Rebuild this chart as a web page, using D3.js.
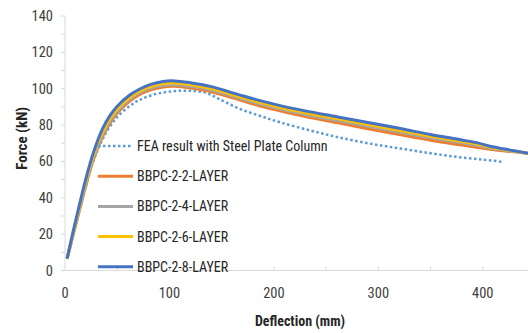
<!DOCTYPE html>
<html>
<head>
<meta charset="utf-8">
<script src="https://cdn.jsdelivr.net/npm/d3@7"></script>
<style>
  body { margin: 0; background: #fff; }
  svg { display: block; font-family: "Liberation Sans Narrow", "Arial Narrow", "Roboto Condensed", sans-serif; }
</style>
</head>
<body>
<div id="chart_root"></div>
<script>
// deflection (mm) sample points for the BBPC curves
const deflection = [2, 8, 15, 20, 27, 36, 43, 50, 62, 72, 82, 94, 105, 120, 139, 167, 185, 206, 230, 260, 290, 320, 350, 380, 395, 405, 416, 430, 445];
const layer2 = [6.5, 20, 35.8, 46.8, 60.8, 73.6, 81, 86.6, 93.2, 97, 99.4, 101, 101.3, 100.4, 98.5, 93.9, 90.8, 87.8, 84.7, 81.4, 78, 74.8, 71.7, 69, 67.7, 66.8, 66, 65.3, 64.3];
const layer4 = [6.5, 20.5, 36.8, 47.9, 61.8, 74.8, 82.2, 87.7, 94.2, 97.9, 100.3, 101.9, 102.2, 101.3, 99.4, 94.8, 91.8, 88.8, 85.8, 82.6, 79.4, 76.2, 73, 70.2, 68.7, 67.6, 66.5, 65.5, 64.3];
const layer6 = [6.5, 21, 37.8, 49, 63, 76.2, 83.5, 88.9, 95.2, 98.8, 101.2, 102.8, 103.1, 102.2, 100.2, 95.6, 92.7, 89.7, 86.8, 83.6, 80.3, 77.1, 73.9, 71, 69.5, 68.2, 66.9, 65.7, 64.3];
const layer8 = [6.5, 22, 39, 50.5, 64.5, 78, 85.2, 90.4, 96.5, 100, 102.4, 104, 104.3, 103.3, 101.3, 96.6, 93.7, 90.7, 87.8, 84.6, 81.4, 78.2, 74.8, 71.8, 70.2, 68.6, 67.3, 65.9, 64.3];
// FEA curve has its own sample points
const feaDeflection = [2, 8, 15, 20, 27, 36, 43, 50, 62, 72, 85, 100, 113, 125, 136, 148, 167, 187, 206, 235, 260, 290, 320, 349, 375, 400, 419];
const feaForce = [6.5, 20, 35.5, 46.3, 60, 72.2, 79.2, 84.4, 90.5, 94, 96.8, 98.4, 98.9, 98.7, 97.6, 94.2, 89, 85, 81.5, 77, 73.5, 70, 67.2, 64.6, 62.5, 61, 59.8];

const seriesNames = ["FEA result with Steel Plate Column", "BBPC-2-2-LAYER", "BBPC-2-4-LAYER", "BBPC-2-6-LAYER", "BBPC-2-8-LAYER"];
const xTicks = [0, 100, 200, 300, 400];
const yTicks = [0, 20, 40, 60, 80, 100, 120, 140];

const W = 528, H = 333;
const colors = ["#5b9bd5", "#ed7d31", "#a5a5a5", "#ffc000", "#4472c4"];

const svg = d3.select("#chart_root").append("svg")
    .attr("width", W)
    .attr("height", H);

const x = d3.scaleLinear().domain([0, 450]).range([65, 535]);
const y = d3.scaleLinear().domain([0, 140]).range([270.5, 16]);

// axes
svg.append("line")
    .attr("x1", x(0)).attr("x2", W)
    .attr("y1", y(0)).attr("y2", y(0))
    .attr("stroke", "#d9d9d9");
svg.append("line")
    .attr("x1", x(0)).attr("x2", x(0))
    .attr("y1", y(0)).attr("y2", y(140))
    .attr("stroke", "#d9d9d9");

svg.append("g")
    .selectAll("line")
    .data(d3.range(0, 141, 10))
    .enter()
    .append("line")
    .attr("x1", x(0) - 4).attr("x2", x(0))
    .attr("y1", d => y(d)).attr("y2", d => y(d))
    .attr("stroke", "#d9d9d9");

svg.append("g")
    .selectAll("line")
    .data(d3.range(50, 451, 50))
    .enter()
    .append("line")
    .attr("x1", d => x(d)).attr("x2", d => x(d))
    .attr("y1", y(0) - 4).attr("y2", y(0))
    .attr("stroke", "#d9d9d9");

svg.append("g")
    .selectAll("text")
    .data(yTicks)
    .enter()
    .append("text")
    .attr("x", 53)
    .attr("y", d => y(d) + 5)
    .attr("text-anchor", "end")
    .attr("font-size", 14.5)
    .attr("fill", "#404040")
    .text(d => d);

svg.append("g")
    .selectAll("text")
    .data(xTicks)
    .enter()
    .append("text")
    .attr("x", d => x(d))
    .attr("y", 298)
    .attr("text-anchor", "middle")
    .attr("font-size", 14.5)
    .attr("fill", "#404040")
    .text(d => d);

svg.append("text")
    .attr("transform", "translate(27," + (y(70) - 5) + ") rotate(-90)")
    .attr("text-anchor", "middle")
    .attr("font-size", 15)
    .attr("font-weight", "bold")
    .attr("fill", "#262626")
    .text("Force (kN)");

svg.append("text")
    .attr("x", 300)
    .attr("y", 326)
    .attr("text-anchor", "middle")
    .attr("font-size", 14)
    .attr("font-weight", "bold")
    .attr("fill", "#262626")
    .text("Deflection (mm)");

// curves
const line = d3.line()
    .x(d => x(d[0]))
    .y(d => y(d[1]))
    .curve(d3.curveCatmullRom.alpha(0.5));

const curves = [
    d3.zip(feaDeflection, feaForce),
    d3.zip(deflection, layer2),
    d3.zip(deflection, layer4),
    d3.zip(deflection, layer6),
    d3.zip(deflection, layer8)
];

svg.append("path")
    .datum(curves[0])
    .attr("d", line)
    .attr("fill", "none")
    .attr("stroke", colors[0])
    .attr("stroke-width", 2.5)
    .attr("stroke-dasharray", "2.5,2.5");

[1, 2, 3, 4].forEach(i => {
    svg.append("path")
        .datum(curves[i])
        .attr("d", line)
        .attr("fill", "none")
        .attr("stroke", colors[i])
        .attr("stroke-width", 3);
});

// legend
const legend = svg.append("g")
    .selectAll("g")
    .data(seriesNames)
    .enter()
    .append("g")
    .attr("transform", (d, i) => "translate(98," + (146 + i * 30.2) + ")");

legend.append("line")
    .attr("x1", 0).attr("x2", 35)
    .attr("stroke", (d, i) => colors[i])
    .attr("stroke-width", (d, i) => i == 0 ? 2.5 : 3)
    .attr("stroke-dasharray", (d, i) => i == 0 ? "2.5,2.5" : null);

legend.append("text")
    .attr("x", 39)
    .attr("y", 5)
    .attr("font-size", 14)
    .attr("fill", "#262626")
    .text(d => d);
</script>
</body>
</html>
